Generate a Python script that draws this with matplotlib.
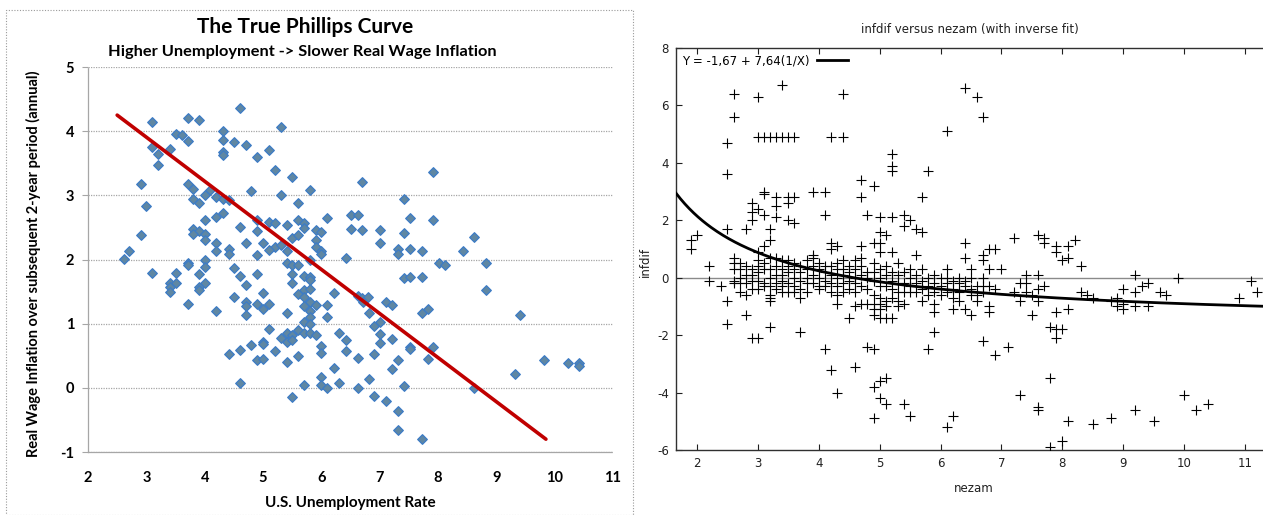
import matplotlib
matplotlib.use("Agg")
import matplotlib.pyplot as plt
import numpy as np
from matplotlib.patches import Rectangle
from matplotlib.lines import Line2D

plt.rcParams["axes.unicode_minus"] = False

# ---------------- Left chart data (U.S. unemployment vs real wage inflation) ----------------
left_unemp = [
    4.60, 3.71, 3.90, 3.10, 5.31, 4.31, 3.50, 3.61, 3.71, 4.31, 4.50, 4.71, 3.10, 3.40, 3.20, 4.31, 4.31, 5.10, 4.90, 3.20,
    5.20, 5.50, 7.92, 6.70, 2.90, 3.71, 3.80, 4.80, 5.80, 4.10, 5.31, 4.00, 4.20, 4.31, 4.41, 7.42, 3.80, 3.90, 3.00, 5.60,
    4.31, 4.20, 6.10, 6.50, 6.62, 7.52, 7.92, 4.00, 4.90, 5.10, 5.20, 5.60, 5.70, 4.60, 5.41, 5.70, 3.80, 3.90, 3.80, 4.00,
    4.00, 2.90, 4.90, 6.50, 6.70, 7.00, 5.90, 6.00, 7.42, 8.62, 5.50, 5.60, 5.90, 4.20, 4.71, 5.00, 7.00, 5.20, 5.31, 5.10,
    4.20, 4.41, 4.41, 5.41, 5.90, 6.00, 6.00, 7.31, 7.31, 7.52, 7.72, 8.42, 2.71, 2.61, 4.90, 6.42, 4.00, 4.00, 3.71, 3.71,
    5.41, 5.50, 5.60, 5.80, 8.01, 8.12, 8.82, 4.50, 3.10, 3.50, 3.90, 4.90, 5.50, 5.70, 5.80, 4.60, 7.42, 7.52, 7.72, 3.40,
    3.50, 3.40, 4.00, 5.50, 5.80, 4.71, 3.90, 3.90, 3.40, 5.70, 5.60, 5.70, 5.80, 5.00, 8.82, 6.22, 4.50, 6.62, 6.70, 6.80,
    5.80, 5.90, 7.10, 7.21, 3.71, 4.71, 4.71, 4.90, 5.10, 6.10, 5.00, 5.70, 5.80, 6.72, 6.82, 7.72, 7.82, 4.20, 5.41, 4.71,
    5.80, 6.10, 9.41, 5.70, 5.80, 7.00, 6.91, 5.10, 5.60, 5.70, 5.80, 5.90, 6.31, 7.00, 5.31, 5.41, 5.50, 5.41, 5.50, 6.42,
    7.21, 5.00, 5.00, 4.80, 7.00, 6.00, 6.00, 7.52, 7.52, 7.92, 4.60, 4.41, 5.20, 6.42, 6.91, 5.60, 6.62, 4.90, 5.00, 5.41,
    7.31, 7.82, 9.82, 10.22, 10.42, 10.42, 6.22, 7.21, 9.32, 6.82, 6.00, 4.60, 5.70, 6.31, 6.00, 6.10, 6.62, 7.42, 8.62, 5.50,
    6.91, 7.10, 7.31, 7.31, 7.72,
]
left_infl = [
    4.36, 4.21, 4.18, 4.14, 4.06, 4.01, 3.95, 3.94, 3.84, 3.86, 3.83, 3.78, 3.75, 3.72, 3.64, 3.67, 3.63, 3.70, 3.60, 3.48,
    3.40, 3.29, 3.37, 3.21, 3.17, 3.18, 3.10, 3.07, 3.08, 3.08, 3.00, 3.00, 2.97, 2.95, 2.93, 2.95, 2.95, 2.88, 2.83, 2.88,
    2.72, 2.67, 2.65, 2.69, 2.69, 2.65, 2.61, 2.61, 2.62, 2.59, 2.57, 2.61, 2.57, 2.51, 2.53, 2.49, 2.48, 2.45, 2.40, 2.40,
    2.31, 2.38, 2.44, 2.47, 2.46, 2.46, 2.46, 2.43, 2.41, 2.35, 2.33, 2.38, 2.30, 2.26, 2.25, 2.25, 2.26, 2.20, 2.22, 2.15,
    2.14, 2.16, 2.08, 2.14, 2.19, 2.14, 2.08, 2.16, 2.09, 2.16, 2.14, 2.14, 2.14, 2.01, 2.07, 2.03, 2.00, 1.88, 1.95, 1.91,
    1.95, 1.91, 1.91, 2.00, 1.95, 1.91, 1.94, 1.86, 1.79, 1.79, 1.77, 1.78, 1.77, 1.75, 1.73, 1.74, 1.71, 1.72, 1.73, 1.64,
    1.63, 1.57, 1.64, 1.64, 1.68, 1.60, 1.57, 1.52, 1.50, 1.52, 1.47, 1.41, 1.54, 1.48, 1.52, 1.48, 1.42, 1.43, 1.40, 1.41,
    1.34, 1.29, 1.34, 1.29, 1.30, 1.34, 1.27, 1.31, 1.31, 1.29, 1.23, 1.28, 1.19, 1.34, 1.16, 1.17, 1.23, 1.19, 1.17, 1.14,
    1.11, 1.11, 1.13, 1.02, 1.00, 1.03, 0.97, 0.92, 0.90, 0.86, 0.85, 0.83, 0.86, 0.84, 0.78, 0.85, 0.83, 0.72, 0.75, 0.75,
    0.76, 0.72, 0.69, 0.66, 0.70, 0.65, 0.55, 0.64, 0.60, 0.63, 0.59, 0.53, 0.57, 0.58, 0.53, 0.50, 0.47, 0.43, 0.45, 0.41,
    0.44, 0.45, 0.43, 0.39, 0.39, 0.34, 0.31, 0.29, 0.22, 0.13, 0.17, 0.07, 0.04, 0.07, 0.04, 0.00, 0.00, 0.03, 0.00, -0.14,
    -0.13, -0.21, -0.36, -0.66, -0.80,
]
trend_x = [2.5, 9.85]
trend_y = [4.25, -0.80]
left_xticks = [2, 3, 4, 5, 6, 7, 8, 9, 10, 11]
left_yticks = [-1, 0, 1, 2, 3, 4, 5]

# ---------------- Right chart data (infdif versus nezam) ----------------
scatter_x = [
    3.4, 2.6, 3.0, 4.4, 6.4, 6.6, 2.6, 6.7, 6.1, 3.0, 3.1, 3.2, 3.3, 3.4, 3.5, 3.6, 4.2, 4.4, 2.5, 2.5,
    5.2, 5.2, 5.2, 5.8, 4.7, 4.9, 4.7, 5.7, 3.9, 4.1, 3.1, 3.1, 3.3, 3.5, 3.6, 2.9, 3.0, 2.9, 3.3, 3.5,
    3.1, 3.3, 3.5, 3.6, 2.9, 4.1, 4.8, 5.0, 5.2, 5.4, 5.5, 5.4, 5.6, 5.7, 5.0, 5.1, 2.5, 2.8, 3.2, 3.2,
    3.1, 4.2, 4.2, 4.3, 4.7, 4.9, 5.0, 5.0, 5.2, 5.6, 6.4, 6.4, 6.7, 6.7, 6.8, 6.9, 7.2, 7.6, 7.7, 7.7,
    7.9, 7.9, 8.1, 8.2, 8.0, 8.1, 8.3, 1.9, 1.9, 2.0, 2.2, 2.2, 2.4,
    2.5, 2.5, 2.8, 2.9, 3.0, 3.2, 3.7, 4.1, 4.2, 4.3, 4.5, 4.6, 4.6, 4.8, 4.9, 4.9, 5.0, 5.1, 5.0, 5.1,
    4.9, 5.0, 5.1, 5.2, 5.4, 5.5, 5.8, 5.9, 5.9, 6.1, 6.2, 6.7, 6.9, 7.1, 7.3, 7.6, 7.6, 7.8, 7.8, 8.0,
    8.1, 8.5, 8.8, 9.2, 9.5, 10.0, 10.2, 10.4, 7.8, 7.9, 8.0, 7.9, 7.9, 8.1, 7.5, 6.2, 6.4, 6.5, 6.8, 6.8,
    9.2, 9.9, 11.1, 11.2, 10.9, 8.3, 8.4, 8.5, 8.8, 8.9, 8.9, 9.0, 9.0, 9.0, 9.2, 9.2, 9.3, 9.4, 9.4, 9.6, 9.7,
]
scatter_y = [
    6.7, 6.4, 6.3, 6.4, 6.6, 6.3, 5.6, 5.6, 5.1, 4.9, 4.9, 4.9, 4.9, 4.9, 4.9, 4.9, 4.9, 4.9, 4.7, 3.6,
    4.3, 3.9, 3.7, 3.7, 3.4, 3.2, 2.8, 2.8, 3.0, 3.0, 3.0, 2.9, 2.8, 2.8, 2.8, 2.6, 2.4, 2.3, 2.5, 2.6,
    2.2, 2.1, 2.0, 1.9, 2.0, 2.2, 2.2, 2.1, 2.1, 2.2, 2.0, 1.8, 1.7, 1.6, 1.6, 1.5, 1.7, 1.7, 1.7, 1.3,
    1.1, 1.2, 1.0, 1.1, 1.1, 1.2, 1.2, 0.9, 0.9, 0.8, 1.2, 0.7, 0.8, 0.6, 1.0, 1.0, 1.4, 1.5, 1.4, 1.2,
    1.1, 0.9, 1.1, 1.3, 0.6, 0.7, 0.4, 1.3, 1.0, 1.5, 0.4, -0.1, -0.3,
    -0.8, -1.6, -1.3, -2.1, -2.1, -1.7, -1.9, -2.5, -3.2, -4.0, -1.4, -3.1, -1.0, -2.4, -2.5, -3.8, -3.6, -3.5, -4.2, -4.4,
    -4.9, -1.4, -1.4, -1.4, -4.4, -4.8, -2.5, -1.9, -1.2, -5.2, -4.8, -2.2, -2.7, -2.4, -4.1, -4.5, -4.6, -3.5, -5.9, -5.7,
    -5.0, -5.1, -4.9, -4.6, -5.0, -4.1, -4.6, -4.4, -1.7, -1.8, -1.8, -2.1, -1.2, -1.1, -1.3, -1.1, -1.1, -1.3, -1.2, -1.0,
    0.1, 0.0, -0.1, -0.5, -0.7, -0.5, -0.6, -0.7, -0.8, -0.7, -1.0, -0.4, -0.9, -1.1, -0.5, -1.0, -0.3, -0.2, -1.0, -0.5, -0.6,
]
# dense band of observations close to zero
cluster_x = [
    2.6, 2.6, 2.6, 2.6, 2.6,
    2.7, 2.7, 2.7, 2.7, 2.7,
    2.8, 2.8, 2.8, 2.8,
    2.9, 2.9, 2.9, 2.9,
    3.0, 3.0, 3.0, 3.0, 3.0, 3.0,
    3.1, 3.1, 3.1, 3.1,
    3.2, 3.2, 3.2, 3.2, 3.2, 3.2, 3.2,
    3.3, 3.3, 3.3, 3.3, 3.3,
    3.4, 3.4, 3.4, 3.4, 3.4, 3.4,
    3.5, 3.5, 3.5, 3.5, 3.5,
    3.6, 3.6, 3.6, 3.6, 3.6,
    3.7, 3.7, 3.7, 3.7, 3.7,
    3.8, 3.8, 3.8, 3.8, 3.8,
    3.9, 3.9, 3.9, 3.9, 3.9,
    4.0, 4.0, 4.0, 4.0, 4.0,
    4.1, 4.1, 4.1, 4.1,
    4.2, 4.2, 4.2, 4.2,
    4.3, 4.3, 4.3, 4.3, 4.3, 4.3,
    4.4, 4.4, 4.4, 4.4, 4.4,
    4.5, 4.5, 4.5, 4.5,
    4.6, 4.6, 4.6, 4.6, 4.6,
    4.7, 4.7, 4.7, 4.7, 4.7,
    4.8, 4.8, 4.8, 4.8,
    4.9, 4.9, 4.9, 4.9, 4.9, 4.9, 4.9,
    5.0, 5.0, 5.0, 5.0, 5.0, 5.0,
    5.1, 5.1, 5.1, 5.1, 5.1,
    5.2, 5.2, 5.2, 5.2,
    5.3, 5.3, 5.3, 5.3, 5.3, 5.3,
    5.4, 5.4, 5.4, 5.4,
    5.5, 5.5, 5.5, 5.5,
    5.6, 5.6, 5.6,
    5.7, 5.7, 5.7, 5.7,
    5.8, 5.8, 5.8,
    5.9, 5.9, 5.9, 5.9,
    6.0, 6.0, 6.0,
    6.1, 6.1, 6.1, 6.1,
    6.2, 6.2, 6.2,
    6.3, 6.3, 6.3, 6.3,
    6.4, 6.4,
    6.5, 6.5, 6.5, 6.5,
    6.6, 6.6, 6.6,
    6.7, 6.7, 6.7,
    6.8, 6.8,
    6.9,
    7.0,
    7.2,
    7.3, 7.3,
    7.4, 7.4, 7.4,
    7.5,
    7.6, 7.6, 7.6,
    7.7,
]
cluster_y = [
    0.7, 0.5, 0.3, -0.1, -0.2,
    0.5, 0.3, 0.0, -0.2, -0.5,
    0.4, 0.1, -0.2, -0.6,
    0.3, 0.1, -0.1, -0.4,
    0.9, 0.6, 0.4, 0.2, -0.1, -0.4,
    0.5, 0.3, -0.2, -0.3,
    0.7, 0.3, 0.0, -0.3, -0.6, -0.7, -0.8,
    0.7, 0.4, 0.1, -0.2, -0.4,
    0.6, 0.3, 0.1, -0.1, -0.3, -0.5,
    0.6, 0.4, 0.2, -0.2, -0.5,
    0.5, 0.3, 0.0, -0.3, -0.5,
    0.4, 0.2, -0.1, -0.4, -0.7,
    0.6, 0.3, 0.0, -0.2, -0.5,
    0.8, 0.7, 0.4, 0.1, -0.2,
    0.5, 0.3, 0.0, -0.3, -0.4,
    0.4, 0.2, -0.1, -0.3,
    0.4, 0.1, -0.2, -0.5,
    0.5, 0.3, 0.0, -0.3, -0.6, -0.9,
    0.6, 0.3, 0.1, -0.2, -0.5,
    0.4, 0.2, -0.1, -0.4,
    0.6, 0.3, 0.0, -0.2, -0.5,
    0.7, 0.4, 0.1, -0.3, -0.9,
    0.2, 0.0, -0.4, -0.9,
    0.5, 0.2, -0.1, -0.6, -0.9, -1.1, -1.3,
    0.3, 0.0, -0.3, -0.7, -0.9, -1.1,
    0.4, 0.1, -0.3, -0.8, -1.0,
    0.2, -0.1, -0.4, -0.7,
    0.5, 0.1, -0.2, -0.5, -0.8, -1.0,
    0.2, -0.2, -0.5, -0.9,
    0.3, 0.0, -0.3, -0.5,
    0.1, -0.2, -0.5,
    0.3, -0.1, -0.4, -0.8,
    0.0, -0.3, -0.6,
    0.1, -0.2, -0.5, -0.9,
    0.0, -0.3, -0.6,
    0.3, 0.0, -0.2, -0.5,
    -0.1, -0.4, -0.7,
    0.0, -0.2, -0.5, -0.8,
    -0.1, -0.3,
    0.3, 0.0, -0.4, -0.6,
    -0.3, -0.6, -0.8,
    0.0, -0.3, -0.5,
    0.3, -0.3,
    -0.4,
    0.3,
    -0.5,
    -0.2, -0.8,
    0.1, -0.2, -0.5,
    -0.6,
    0.1, -0.4, -0.8,
    -0.3,
]
fit_a = -1.67
fit_b = 7.64
right_xticks = [2, 3, 4, 5, 6, 7, 8, 9, 10, 11]
right_yticks = [-6, -4, -2, 0, 2, 4, 6, 8]

W, H = 1263, 515
fig = plt.figure(figsize=(W / 100, H / 100), dpi=100)
fig.patch.set_facecolor("white")

LFONT = "Lato"

# dotted frame around left chart
fig.add_artist(Rectangle((6 / W, 0.0), (633 - 6) / W, 1 - 10 / H,
                         transform=fig.transFigure, fill=False,
                         edgecolor="#9a9a9a", lw=0.8, ls=(0, (1, 1.5))))

# ---------------- Left axes ----------------
axL = fig.add_axes([88 / W, 1 - 452 / H, (613 - 88) / W, (452 - 67) / H])
axL.set_xlim(2, 11)
axL.set_ylim(-1, 5)
axL.set_xticks(left_xticks)
axL.set_yticks(left_yticks)
axL.grid(axis="y", color="#a6a6a6", lw=0.9, ls=(0, (1, 1)))
axL.set_axisbelow(True)
for s in ["top", "right"]:
    axL.spines[s].set_visible(False)
for s in ["left", "bottom"]:
    axL.spines[s].set_color("#a6a6a6")
    axL.spines[s].set_linestyle((0, (1, 1)))
    axL.spines[s].set_linewidth(0.9)
axL.tick_params(axis="x", length=0, pad=14, labelsize=10.5)
axL.tick_params(axis="y", length=4, color="#a6a6a6", pad=6, labelsize=10.5)
for lab in axL.get_xticklabels() + axL.get_yticklabels():
    lab.set_fontfamily(LFONT)
    lab.set_fontweight("bold")

axL.scatter(left_unemp, left_infl, marker="D", s=24, facecolor="#5f87a3",
            edgecolor="#3d7cc6", linewidth=0.9, zorder=3)
axL.plot(trend_x, trend_y, color="#c00000", lw=2.6, solid_capstyle="round", zorder=4)

fig.text(305 / W, 1 - 27 / H, "The True Phillips Curve", ha="center", va="center",
         fontsize=15, fontweight="bold", family=LFONT)
fig.text(302 / W, 1 - 52 / H, "Higher Unemployment -> Slower Real Wage Inflation",
         ha="center", va="center", fontsize=11.8, fontweight="bold", family=LFONT)
fig.text(350 / W, 1 - 503 / H, "U.S. Unemployment Rate", ha="center", va="center",
         fontsize=11, fontweight="bold", family=LFONT)
fig.text(33 / W, 1 - 264 / H, "Real Wage Inflation over subsequent 2-year period (annual)",
         ha="center", va="center", rotation=90, fontsize=10.5, fontweight="bold", family=LFONT)

# ---------------- Right axes ----------------
x_lo = 2 - (697 - 676) / 61.0
x_hi = 11 + (1263 - 1245) / 61.0
axR = fig.add_axes([676 / W, 1 - 450 / H, (1263 - 676) / W, (450 - 48) / H])
axR.set_xlim(x_lo, x_hi)
axR.set_ylim(-6, 8)
axR.set_xticks(right_xticks)
axR.set_yticks(right_yticks)
axR.spines["right"].set_visible(False)
for s in ["left", "top", "bottom"]:
    axR.spines[s].set_color("#303030")
    axR.spines[s].set_linewidth(1.0)
axR.tick_params(direction="in", top=True, right=False, length=4, width=0.8,
                labelsize=8.5, pad=5, colors="#202020")
axR.axhline(0, color="#8a8a8a", lw=1.0, zorder=1)

axR.plot(scatter_x, scatter_y, linestyle="none", marker="+", ms=7, mew=0.8,
         color="black", zorder=3)
axR.plot(cluster_x, cluster_y, linestyle="none", marker="+", ms=7, mew=0.8,
         color="black", zorder=3)
xs = np.linspace(x_lo, x_hi, 400)
axR.plot(xs, fit_a + fit_b / xs, color="black", lw=2.0, zorder=4)

leg_handle = Line2D([], [], color="black", lw=2.0)
axR.legend([leg_handle], ["Y = -1,67 + 7,64(1/X)"], loc="upper left",
           markerfirst=False, frameon=False, fontsize=8.5, handlelength=2.6,
           handletextpad=0.6, borderaxespad=0.25, borderpad=0.3)

fig.text(970 / W, 1 - 29 / H, "infdif versus nezam (with inverse fit)", ha="center",
         va="center", fontsize=8.5, color="#202020")
fig.text(974 / W, 1 - 488 / H, "nezam", ha="center", va="center", fontsize=8.5,
         color="#202020")
fig.text(645 / W, 1 - 262 / H, "infdif", ha="center", va="center", rotation=90,
         fontsize=8.5, color="#202020")

fig.savefig("out.png", dpi=100, facecolor="white")
